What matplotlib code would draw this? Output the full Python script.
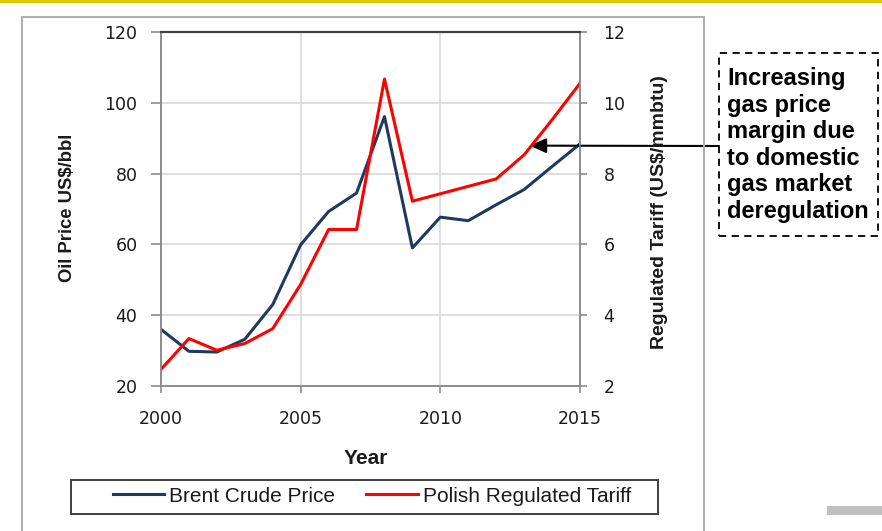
import numpy as np
import matplotlib
matplotlib.use("Agg")
import matplotlib.pyplot as plt
from matplotlib.patches import Rectangle
from matplotlib.lines import Line2D

years = list(range(2000, 2016))
brent = [36.0, 29.8, 29.6, 33.2, 43.0, 59.9, 69.3, 74.5, 96.1, 59.0, 67.7, 66.7, 71.2, 75.5, 82.0, 88.4]
tariff = [2.47, 3.34, 3.01, 3.20, 3.62, 4.87, 6.42, 6.42, 10.67, 7.22, 7.43, 7.64, 7.85, 8.53, 9.52, 10.55]
note = "Increasing\ngas price\nmargin due\nto domestic\ngas market\nderegulation"

W, H = 882, 531
navy = "#1f3a5f"
red = "#ff0000"
txt = "#1a1a1a"
arial = ["Liberation Sans", "DejaVu Sans"]


def fx(px):
    return px / W


def fy(py):
    return 1 - py / H


fig = plt.figure(figsize=(W / 100, H / 100), dpi=100)
ax = fig.add_axes([fx(161), fy(386), fx(580) - fx(161), fy(32) - fy(386)])

# outer frame, yellow line on top, grey block bottom right
fig.add_artist(Line2D([0, 1], [fy(1), fy(1)], color="#d4cc00", lw=2.5,
                      transform=fig.transFigure))
fig.add_artist(Rectangle((fx(22), -0.1), fx(704) - fx(22), fy(17) + 0.1,
                         transform=fig.transFigure, fill=False,
                         edgecolor="#b0b0b0", lw=1.5))
fig.add_artist(Rectangle((fx(827), fy(515)), fx(55), 9 / H,
                         transform=fig.transFigure, color="#c0c0c0", lw=0))

l1, = ax.plot(years, brent, color=navy, lw=2.2, label="Brent Crude Price")
ax.set_xlim(2000, 2015)
ax.set_ylim(20, 120)
ax.set_xticks([2000, 2005, 2010, 2015])
ax.set_yticks(range(20, 121, 20))
ax.grid(True, color="#d9d9d9", lw=1.2)
ax.set_axisbelow(True)

ax2 = ax.twinx()
l2, = ax2.plot(years, tariff, color=red, lw=2.2, label="Polish Regulated Tariff")
ax2.set_ylim(2, 12)
ax2.set_yticks(range(2, 13, 2))

for a in (ax, ax2):
    for s in ("left", "right", "bottom"):
        a.spines[s].set_color("#8c8c8c")
        a.spines[s].set_linewidth(1.2)
    a.spines["top"].set_color("#404040")
    a.spines["top"].set_linewidth(1.5)
    a.tick_params(direction="out", width=1.2, color="#8c8c8c",
                  labelsize=12.5, labelcolor=txt)
ax.tick_params(axis="y", length=7, pad=10)
ax.tick_params(axis="x", length=5, pad=12)
ax2.tick_params(axis="y", length=5, pad=12)

# axis titles
fig.text(fx(366), fy(459), "Year", ha="center", va="center",
         fontsize=15, fontweight="bold", family=arial, color=txt)
fig.text(fx(68), fy(208), "Oil Price US$/bbl", ha="center", va="center",
         rotation=90, fontsize=13.3, fontweight="bold", family=arial, color=txt)
fig.text(fx(659), fy(212), "Regulated Tariff (US$/mmbtu)", ha="center",
         va="center", rotation=90, fontsize=14, fontweight="bold",
         family=arial, color=txt)

# legend: frame drawn separately, entries centred in it
fig.add_artist(Rectangle((fx(71), fy(513.5)), fx(658) - fx(71), 34 / H,
                         transform=fig.transFigure, fill=False,
                         edgecolor="#404040", lw=1.4))
fig.legend([l1, l2], [l1.get_label(), l2.get_label()], ncol=2,
           loc="center", bbox_to_anchor=(fx(372), fy(496)),
           frameon=False, prop=dict(family=arial, size=15),
           handlelength=2.45, handletextpad=0.24, columnspacing=1.5,
           labelcolor=txt)

# annotation box with arrow
fig.text(fx(727), fy(145), note, ha="left", va="center",
         fontsize=17, fontweight="bold", family=arial, linespacing=1.2,
         color="black")
fig.add_artist(Rectangle((fx(719), fy(236)), fx(878) - fx(719), (236 - 53) / H,
                         transform=fig.transFigure, fill=False,
                         edgecolor="black", lw=1.3, ls=(0, (4, 3))))
ax.annotate("", xy=(2013.2, 87.9), xycoords="data",
            xytext=(fx(719), fy(146)), textcoords="figure fraction",
            arrowprops=dict(arrowstyle="-|>,head_length=1.0,head_width=0.45",
                            color="black", lw=1.5, shrinkA=0, shrinkB=0))

fig.savefig("out.png", dpi=100)
